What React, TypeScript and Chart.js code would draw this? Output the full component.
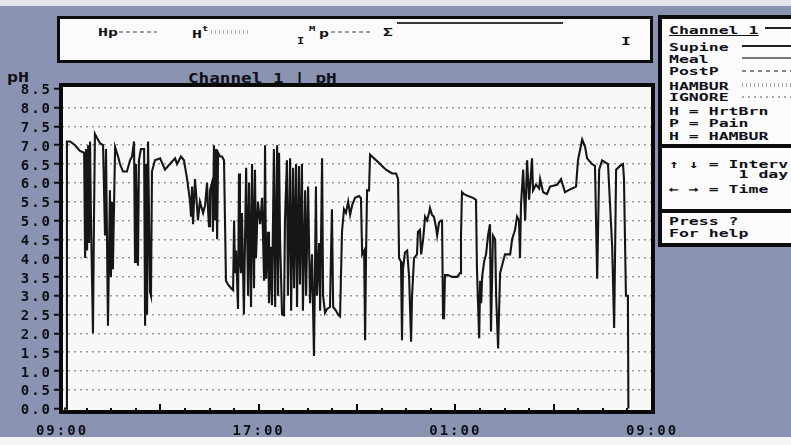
import React, { useEffect, useRef } from 'react';
import { Chart, registerables } from 'chart.js';

Chart.register(...registerables);

// Time since 09:00 (hours) and pH, channel 1
const dayHours = [
  0.08, 0.18, 0.2, 0.33, 0.53, 0.73, 0.9, 0.94, 0.98, 1.02, 1.06, 1.1, 1.14, 1.18, 1.26, 1.3,
  1.34, 1.42, 1.55, 1.67, 1.75, 1.79, 1.87, 1.95, 1.99, 2.03, 2.07, 2.16, 2.28, 2.36, 2.48, 2.64,
  2.77, 2.85, 2.93, 2.97, 3.01, 3.09, 3.13, 3.21, 3.34, 3.38, 3.42, 3.46, 3.5, 3.58, 3.62, 3.66,
  3.78, 3.99, 4.19, 4.39, 4.6, 4.68, 4.84, 4.96, 5.09, 5.21, 5.25, 5.29, 5.33, 5.41, 5.49, 5.53,
  5.61, 5.74, 5.82, 5.9, 5.94, 5.98, 6.02, 6.1, 6.14, 6.18, 6.22, 6.27, 6.31, 6.35, 6.43, 6.51,
  6.59, 6.67, 6.75, 6.88, 6.96, 7.0, 7.04, 7.08, 7.16, 7.2, 7.24, 7.28, 7.32, 7.4, 7.49,
];
const dayPH = [
  0.0, 0.0, 7.1, 7.1, 7.0, 6.85, 6.8, 4.0, 6.9, 4.2, 7.0, 4.4, 7.1, 5.0, 2.0, 5.0,
  7.3, 7.2, 7.05, 7.0, 4.6, 6.9, 2.2, 5.8, 3.5, 5.5, 3.7, 6.95, 6.7, 6.5, 6.3, 6.3,
  6.6, 6.7, 7.1, 3.9, 6.5, 3.8, 6.6, 6.9, 6.9, 2.2, 6.5, 2.5, 7.1, 3.1, 3.0, 6.3,
  6.6, 6.65, 6.35, 6.5, 6.65, 6.5, 6.7, 6.6, 6.1, 5.5, 5.1, 5.9, 4.9, 6.1, 5.4, 5.0,
  5.5, 5.2, 5.4, 6.0, 5.3, 4.85, 5.8, 6.0, 4.7, 7.0, 5.0, 6.9, 4.5, 6.8, 6.7, 6.7,
  6.6, 3.4, 3.3, 3.2, 3.15, 5.0, 3.6, 4.2, 2.65, 6.25, 4.0, 3.6, 5.2, 2.5, 6.4,
];

const eveningHours = [
  7.57, 7.61, 7.69, 7.73, 7.81, 7.85, 7.89, 7.97, 8.06, 8.14, 8.22, 8.26, 8.3, 8.38, 8.42, 8.5,
  8.54, 8.62, 8.67, 8.75, 8.79, 8.83, 8.87, 8.95, 9.03, 9.07, 9.15, 9.19, 9.28, 9.32, 9.4, 9.44,
  9.52, 9.56, 9.64, 9.68, 9.76, 9.8, 9.89, 9.93, 10.01, 10.09, 10.17, 10.25, 10.33, 10.37, 10.46, 10.5,
  10.58, 10.62, 10.7, 10.78, 10.9, 10.98, 11.03, 11.15, 11.23, 11.31, 11.39, 11.47, 11.55, 11.64, 11.72, 11.8,
  11.92, 12.08, 12.16, 12.21, 12.29, 12.33, 12.37, 12.41, 12.49, 12.53, 12.61, 12.86, 13.02, 13.18, 13.43, 13.59,
  13.67, 13.71, 13.79, 13.83, 13.87, 13.95, 14.04, 14.12, 14.2, 14.24, 14.32, 14.44, 14.48, 14.56, 14.61, 14.69,
  14.77, 14.85, 14.93, 14.97, 15.05, 15.13, 15.22, 15.26, 15.34, 15.42, 15.46, 15.5, 15.54, 15.58, 15.7, 15.87,
  15.99,
];
const eveningPH = [
  3.0, 6.0, 2.7, 6.5, 3.2, 6.35, 4.0, 5.5, 4.9, 5.6, 3.4, 7.0, 3.45, 4.7, 2.8, 4.3,
  2.75, 6.9, 2.7, 7.0, 3.0, 6.8, 4.5, 2.5, 2.48, 5.0, 6.6, 3.0, 6.65, 2.6, 6.4, 3.2,
  6.5, 2.7, 6.45, 3.3, 6.5, 2.6, 5.8, 3.0, 5.9, 2.8, 4.1, 1.4, 5.9, 3.0, 4.4, 2.6,
  6.65, 3.0, 2.55, 2.65, 2.7, 5.3, 2.7, 2.6, 2.5, 2.45, 4.7, 5.3, 5.2, 5.5, 5.15, 5.4,
  5.6, 5.65, 5.6, 4.1, 4.2, 1.82, 4.2, 5.8, 5.8, 6.75, 6.7, 6.55, 6.45, 6.35, 6.25, 6.25,
  6.1, 4.0, 3.9, 1.82, 3.7, 4.15, 4.2, 3.5, 1.78, 3.0, 4.0, 4.1, 4.7, 4.75, 4.1, 4.5,
  5.1, 5.0, 5.2, 5.33, 5.15, 5.1, 4.8, 4.6, 4.95, 5.0, 5.0, 2.4, 2.4, 3.55, 3.55, 3.5,
  3.5,
];

const nightHours = [
  16.07, 16.11, 16.19, 16.23, 16.27, 16.35, 16.52, 16.72, 16.84, 16.88, 16.97, 17.01, 17.05, 17.09, 17.17, 17.25,
  17.33, 17.41, 17.45, 17.53, 17.62, 17.66, 17.74, 17.82, 17.94, 18.02, 18.23, 18.31, 18.43, 18.51, 18.59, 18.63,
  18.67, 18.76, 18.84, 18.92, 19.0, 19.12, 19.16, 19.28, 19.41, 19.45, 19.57, 19.73, 19.85, 20.14, 20.3, 20.46,
  20.59, 20.75, 20.91, 20.99, 21.16, 21.28, 21.36, 21.56, 21.68, 21.77, 21.85, 21.97, 22.21, 22.38, 22.46, 22.54,
  22.7, 22.82, 22.86, 22.94, 23.02, 23.04,
];
const nightPH = [
  3.5, 3.53, 3.6, 4.6, 5.75, 5.7, 5.65, 5.6, 5.55, 3.7, 1.87, 3.4, 2.8, 3.5, 3.9, 4.1,
  4.6, 4.9, 2.05, 4.6, 4.5, 3.0, 1.6, 3.6, 3.9, 4.1, 4.1, 4.5, 4.75, 5.1, 5.0, 4.0,
  5.4, 6.35, 5.0, 6.6, 5.55, 6.65, 5.8, 5.95, 5.85, 6.1, 5.75, 5.7, 5.9, 5.95, 6.1, 5.75,
  5.8, 5.85, 5.9, 6.6, 7.15, 6.95, 6.65, 6.5, 6.45, 3.45, 6.35, 6.6, 6.5, 4.3, 2.14, 6.35,
  6.45, 6.5, 6.1, 3.0, 3.0, 0.0,
];

const pHStep = 0.5;
const pHTopTick = 8.5;
const hourStep = 1;
const majorHourEvery = 4;
const xLabelHours = [0, 8, 16, 24];
const xLabelTexts = ['09:00', '17:00', '01:00', '09:00'];

const MONO = '"DejaVu Sans Mono", "Liberation Mono", monospace';
const INK = '#101018';

const framePlugin = {
  id: 'pcFrame',
  beforeDraw(chart: any) {
    const { ctx, chartArea: a } = chart;
    ctx.save();
    ctx.fillStyle = '#f8f8f6';
    ctx.fillRect(a.left, a.top, a.right - a.left, a.bottom - a.top);
    ctx.restore();
    ctx.letterSpacing = '2px';
  },
  afterDraw(chart: any) {
    const { ctx, chartArea: a, scales } = chart;
    const xs = scales.x;
    ctx.save();
    ctx.strokeStyle = '#0a0a0a';
    ctx.lineWidth = 2;
    xs.ticks.forEach((t: any) => {
      if (t.value <= xs.min || t.value >= xs.max) return;
      const px = Math.round(xs.getPixelForValue(t.value));
      const len = t.value % majorHourEvery === 0 ? 8 : 4;
      ctx.beginPath();
      ctx.moveTo(px, a.bottom);
      ctx.lineTo(px, a.bottom - len);
      ctx.stroke();
    });
    ctx.lineWidth = 4;
    ctx.strokeRect(a.left - 1, a.top, a.right - a.left + 2, a.bottom - a.top);
    ctx.restore();
    ctx.letterSpacing = '0px';
  },
};

function T({ x, y, size = 11, sx = 1.5, children, style }: any) {
  return (
    <div
      style={{
        position: 'absolute',
        left: x,
        top: y - 0.117 * size,
        fontFamily: MONO,
        fontWeight: 700,
        fontSize: size,
        lineHeight: `${size}px`,
        whiteSpace: 'pre',
        color: INK,
        transform: `scaleX(${sx})`,
        transformOrigin: '0 0',
        ...style,
      }}
    >
      {children}
    </div>
  );
}

function Seg({ x, y, w, h = 2, bg }: any) {
  return <div style={{ position: 'absolute', left: x, top: y, width: w, height: h, background: bg }} />;
}

const solid = (c: string) => c;
const dashed = (c: string, on: number, off: number) =>
  `repeating-linear-gradient(90deg, ${c} 0 ${on}px, transparent ${on}px ${on + off}px)`;

export default function App() {
  const ref = useRef<HTMLCanvasElement>(null);

  useEffect(() => {
    const canvas = ref.current!;
    const allHours = [...dayHours, ...eveningHours, ...nightHours];
    const allPH = [...dayPH, ...eveningPH, ...nightPH];
    const points = allHours.map((h, i) => ({ x: h, y: allPH[i] }));
    const tickFont = { family: MONO, weight: 'bold' as const, size: 14 };

    const chart = new Chart(canvas, {
      type: 'line',
      data: {
        datasets: [
          {
            label: 'Channel 1 pH',
            data: points,
            borderColor: '#161616',
            borderWidth: 2.1,
            pointRadius: 0,
            tension: 0,
            fill: false,
          },
        ],
      },
      options: {
        responsive: false,
        maintainAspectRatio: false,
        devicePixelRatio: 1,
        animation: false,
        layout: { padding: { left: 12, right: 139, top: 85, bottom: 5 } },
        plugins: { legend: { display: false }, tooltip: { enabled: false }, title: { display: false } },
        scales: {
          x: {
            type: 'linear',
            min: 0,
            max: 24,
            afterFit: (s: any) => {
              s.height = 28;
            },
            grid: { display: false, drawTicks: false, tickLength: 0 },
            border: { display: false },
            ticks: {
              stepSize: hourStep,
              autoSkip: false,
              maxRotation: 0,
              minRotation: 0,
              padding: 11,
              color: INK,
              font: tickFont,
              callback: (v: any) => {
                const i = xLabelHours.indexOf(Number(v));
                return i >= 0 ? xLabelTexts[i] : '';
              },
            },
          },
          y: {
            type: 'linear',
            min: -0.09,
            max: 8.6,
            afterFit: (s: any) => {
              s.width = 50;
            },
            afterBuildTicks: (s: any) => {
              s.ticks = s.ticks.filter((t: any) => t.value >= -1e-9 && t.value <= pHTopTick + 1e-9);
            },
            grid: {
              color: (c: any) =>
                c.tick && (Math.abs(c.tick.value) < 1e-9 || c.tick.value >= pHTopTick - 1e-9)
                  ? 'rgba(0,0,0,0)'
                  : '#9a9a9a',
              lineWidth: 1.5,
              drawTicks: true,
              tickLength: 8,
              tickColor: '#101010',
              tickWidth: 2,
              tickBorderDash: [],
            },
            border: { display: false, dash: [2, 4] },
            ticks: {
              stepSize: pHStep,
              includeBounds: false,
              autoSkip: false,
              padding: 2,
              labelOffset: 2,
              color: INK,
              font: tickFont,
              callback: (v: any) => Number(v).toFixed(1),
            },
          },
        },
      },
      plugins: [framePlugin],
    } as any);

    return () => chart.destroy();
  }, []);

  return (
    <div
      style={{
        position: 'absolute',
        left: 0,
        top: 0,
        width: 791,
        height: 445,
        overflow: 'hidden',
        background: '#f4f4f6',
      }}
    >
      <div style={{ position: 'absolute', left: 0, top: 0, width: 791, height: 6, background: '#e2e4ec' }} />
      <div style={{ position: 'absolute', left: 0, top: 6, width: 791, height: 431, background: '#8a93b2' }} />

      {/* top event box */}
      <div
        style={{
          position: 'absolute',
          left: 57,
          top: 16,
          width: 596,
          height: 47,
          boxSizing: 'border-box',
          border: '3px solid #0c0c0c',
          background: '#fbfbfb',
        }}
      />
      <T x={98} y={28}>Hp</T>
      <Seg x={119} y={31} w={38} h={2} bg={dashed('#a0a0a0', 4, 3)} />
      <T x={192} y={30}>H</T>
      <T x={202} y={27} size={7}>t</T>
      <Seg x={211} y={30} w={37} h={4} bg={dashed('#b0b0b0', 1, 3)} />
      <T x={297} y={39} size={8}>I</T>
      <T x={309} y={27} size={7}>M</T>
      <T x={319} y={29}>p</T>
      <Seg x={331} y={31} w={40} h={2} bg={dashed('#a0a0a0', 4, 3)} />
      <T x={383} y={28}>Σ</T>
      <Seg x={397} y={22} w={166} h={2} bg={solid('#3a3a3a')} />
      <T x={621} y={37}>I</T>

      {/* chart title and axis name */}
      <T x={188} y={73} size={14} sx={1.26}>Channel 1 | pH</T>
      <T x={7} y={72} size={14} sx={1.3}>pH</T>

      {/* right control panel */}
      <div
        style={{
          position: 'absolute',
          left: 658,
          top: 15,
          width: 150,
          height: 232,
          boxSizing: 'border-box',
          border: '4px solid #0c0c0c',
          background: '#fbfbfb',
        }}
      />
      <T x={669} y={26} style={{ textDecoration: 'underline' }}>Channel 1</T>
      <Seg x={765} y={27} w={30} h={2} bg={solid('#222')} />
      <T x={669} y={43}>Supine</T>
      <Seg x={742} y={45} w={52} h={2} bg={solid('#222')} />
      <T x={669} y={55}>Meal</T>
      <Seg x={742} y={57} w={52} h={2} bg={solid('#777')} />
      <T x={669} y={67}>PostP</T>
      <Seg x={742} y={70} w={52} h={2} bg={dashed('#888', 4, 4)} />
      <T x={669} y={82}>HAMBUR</T>
      <Seg x={742} y={83} w={52} h={4} bg={dashed('#a8a8a8', 1, 3)} />
      <T x={669} y={93}>IGNORE</T>
      <Seg x={742} y={96} w={52} h={2} bg={dashed('#aaa', 2, 4)} />
      <T x={669} y={107}>H = HrtBrn</T>
      <T x={669} y={119}>P = Pain</T>
      <T x={669} y={132}>H = HAMBUR</T>
      <Seg x={658} y={144} w={140} h={4} bg={solid('#0c0c0c')} />
      <T x={669} y={160}>↑ ↓ = Interv</T>
      <T x={669} y={170}>       1 day</T>
      <T x={669} y={185}>← → = Time</T>
      <Seg x={658} y={209} w={140} h={4} bg={solid('#0c0c0c')} />
      <T x={669} y={217}>Press ?</T>
      <T x={669} y={229}>For help</T>

      <canvas
        ref={ref}
        width={791}
        height={445}
        style={{ position: 'absolute', left: 0, top: 0, display: 'block' }}
      />
    </div>
  );
}
